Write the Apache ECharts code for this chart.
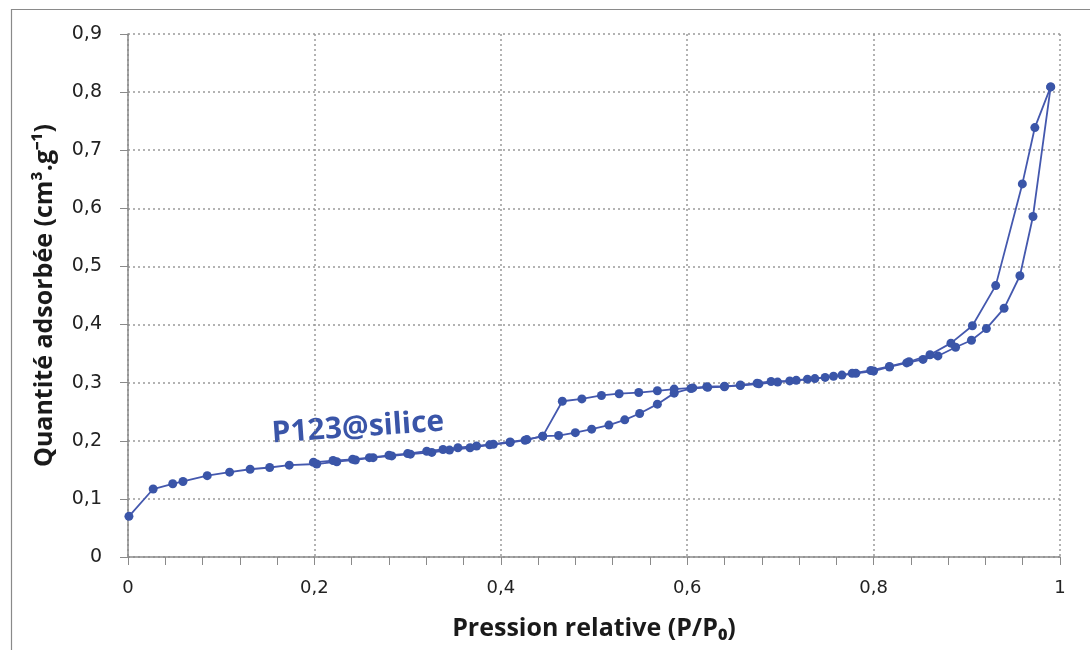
<!DOCTYPE html>
<html>
<head>
<meta charset="utf-8">
<script src="https://cdn.jsdelivr.net/npm/echarts@6/dist/echarts.min.js"></script>
<style>html,body{margin:0;padding:0;background:#fff;}#c{width:1090px;height:650px;}</style>
</head>
<body>
<div id="c"></div>
<script>
// Adsorption branch (ascending P/P0)
const adsX = [0.001,0.027,0.048,0.059,0.085,0.109,0.131,0.152,0.173,0.2025,0.224,0.244,0.263,0.283,0.303,0.326,0.345,0.367,0.388,0.410,0.426,0.445,0.462,0.480,0.4975,0.516,0.533,0.549,0.568,0.586,0.604,0.622,0.640,0.657,0.675,0.690,0.710,0.729,0.748,0.766,0.781,0.800,0.817,0.8355,0.853,0.869,0.888,0.905,0.921,0.940,0.957,0.971,0.990];
const adsY = [0.070,0.117,0.126,0.130,0.140,0.146,0.151,0.154,0.158,0.160,0.164,0.167,0.171,0.174,0.177,0.180,0.184,0.188,0.193,0.197,0.201,0.208,0.209,0.214,0.220,0.227,0.236,0.247,0.263,0.282,0.290,0.292,0.293,0.296,0.299,0.302,0.303,0.306,0.309,0.313,0.316,0.320,0.327,0.334,0.340,0.346,0.361,0.373,0.393,0.428,0.484,0.586,0.809];
// Desorption branch (descending P/P0)
const desX = [0.990,0.973,0.9596,0.931,0.906,0.883,0.8605,0.838,0.817,0.797,0.777,0.757,0.737,0.717,0.697,0.677,0.657,0.640,0.621,0.606,0.586,0.568,0.548,0.527,0.508,0.487,0.466,0.445,0.428,0.410,0.392,0.374,0.354,0.338,0.3205,0.300,0.280,0.259,0.241,0.220,0.199];
const desY = [0.809,0.739,0.642,0.467,0.398,0.368,0.348,0.336,0.328,0.321,0.316,0.311,0.307,0.304,0.301,0.298,0.295,0.294,0.293,0.291,0.289,0.286,0.283,0.281,0.278,0.272,0.268,0.208,0.202,0.198,0.194,0.191,0.188,0.185,0.182,0.178,0.175,0.171,0.168,0.166,0.163];
const xTicks = [0,0.2,0.4,0.6,0.8,1];
const yTicks = [0,0.1,0.2,0.3,0.4,0.5,0.6,0.7,0.8,0.9];
const seriesLabel = 'P123@silice';

const color = '#3A55A8';
const lineColor = '#4458AE';
const fmt = v => String(+v.toFixed(1)).replace('.', ',');
const chart = echarts.init(document.getElementById('c'), null, {renderer:'canvas'});
const mk = (xs, ys) => xs.map((x,i)=>[x, ys[i]]);
const grid = {left:128, right:30, top:34, bottom:93};
chart.setOption({
  animation:false,
  backgroundColor:'#fff',
  grid: grid,
  xAxis: {
    type:'value', min:xTicks[0], max:xTicks[xTicks.length-1], interval:0.2,
    name:'Pression relative (P/P₀)', nameLocation:'middle', nameGap:59,
    nameTextStyle:{fontFamily:'Open Sans', fontWeight:'bold', fontSize:25, color:'#1a1a1a'},
    axisLine:{show:true, lineStyle:{color:'#8a8a8a', width:1.5}},
    axisTick:{show:true, length:8, lineStyle:{color:'#8a8a8a'}},
    minorTick:{show:true, splitNumber:5, length:8, lineStyle:{color:'#8a8a8a'}},
    axisLabel:{formatter:v=>fmt(v), margin:22, fontFamily:'DejaVu Sans', fontSize:18, color:'#222'},
    splitLine:{show:true, lineStyle:{color:'#9a9a9a', type:[2,3], width:1.5}}
  },
  yAxis: {
    type:'value', min:yTicks[0], max:yTicks[yTicks.length-1], interval:0.1,
    name:'Quantité adsorbée (cm³.g⁻¹)', nameLocation:'middle', nameGap:71,
    nameTextStyle:{fontFamily:'Open Sans', fontWeight:'bold', fontSize:25, color:'#1a1a1a'},
    axisLine:{show:true, lineStyle:{color:'#8a8a8a', width:1.5}},
    axisTick:{show:true, length:8, lineStyle:{color:'#8a8a8a'}},
    axisLabel:{formatter:v=>fmt(v), margin:26, fontFamily:'DejaVu Sans', fontSize:19, color:'#222'},
    splitLine:{show:true, lineStyle:{color:'#9a9a9a', type:[2,3], width:1.5}}
  },
  series: [
    {type:'line', name:'ads', data:mk(adsX,adsY), symbol:'circle', symbolSize:9,
     itemStyle:{color:color}, lineStyle:{color:lineColor, width:1.8}},
    {type:'line', name:'des', data:mk(desX,desY), symbol:'circle', symbolSize:9,
     itemStyle:{color:color}, lineStyle:{color:lineColor, width:1.8}}
  ],
  graphic: [
    {type:'rect', left:9, top:7, shape:{width:1200, height:800}, style:{fill:'none', stroke:'#8a8a8a', lineWidth:1.2}, silent:true, z:-1},
    {type:'text', x:358, y:428, rotation:0.07, style:{text:seriesLabel, fill:color, font:'bold 30px "Open Sans"', textAlign:'center', textVerticalAlign:'middle'}}
  ]
});
</script>
</body>
</html>
